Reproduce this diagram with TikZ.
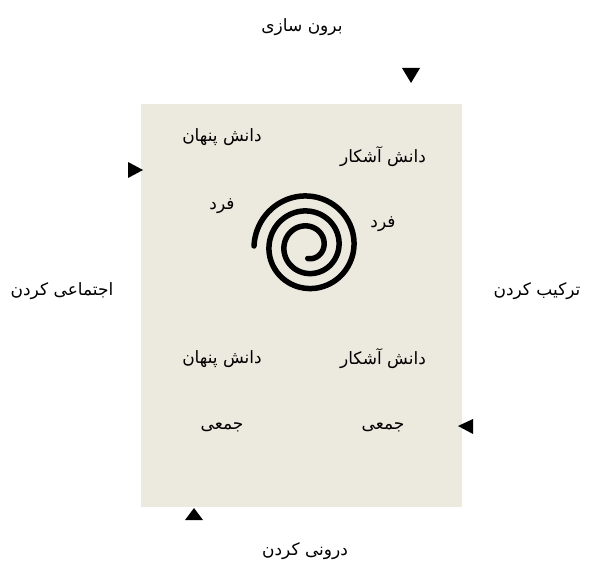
\documentclass[tikz,border=0pt]{standalone}
\usepackage{fontspec}
\usepackage{tikz}
\newfontfamily\farsi[Script=Arabic]{DejaVu Sans}
\TeXXeTstate=1
\definecolor{panelbg}{RGB}{236,233,223}
\newcommand{\fa}[1]{\farsi\beginR #1\endR}

\begin{document}
\begin{tikzpicture}[x=1pt, y=1pt,
        lbl/.style={font=\fontsize{17}{20}\selectfont, inner sep=0pt},
        tri/.style={fill=black},
        coil/.style={line width=5.5pt, line cap=round},
      ]
        \useasboundingbox (0,0) rectangle (591,563);
        \fill[panelbg] (141,56) rectangle (462,459);

        % spiral in the middle
        \draw[coil, shift={(307.75,317)}] plot[domain=0:990, samples=220,
              smooth, variable=\t] ({180-\t}:{53.75-\t/24});

        % outer labels
        \node[lbl] (ext)  at (302,536) {\fa{برون سازی}};
        \node[lbl] (soc)  at (62,272)  {\fa{اجتماعی کردن}};
        \node[lbl] (comb) at (537,272) {\fa{ترکیب کردن}};
        \node[lbl] (intl) at (305,12)  {\fa{درونی کردن}};

        % inner labels
        \node[lbl] (tacitA)    at (222,426) {\fa{دانش پنهان}};
        \node[lbl] (explicitA) at (383,406) {\fa{دانش آشکار}};
        \node[lbl] (indivA)    at (222,357) {\fa{فرد}};
        \node[lbl] (indivB)    at (383,339) {\fa{فرد}};
        \node[lbl] (tacitB)    at (222,204) {\fa{دانش پنهان}};
        \node[lbl] (explicitB) at (383,204) {\fa{دانش آشکار}};
        \node[lbl] (groupA)    at (222,136) {\fa{جمعی}};
        \node[lbl] (groupB)    at (383,136) {\fa{جمعی}};

        % markers
        \fill[tri] (402,495) -- (420,495) -- (411,480) -- cycle;
        \fill[tri] (128,401) -- (128,385) -- (143,393) -- cycle;
        \fill[tri] (473,144) -- (473,129) -- (458,137) -- cycle;
        \fill[tri] (185,43) -- (203,43) -- (194,55) -- cycle;
      \end{tikzpicture}
\end{document}
